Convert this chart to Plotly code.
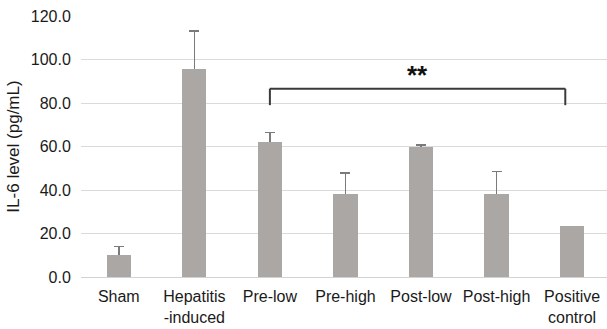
import plotly.graph_objects as go

# IL-6 levels per group (pg/mL), mean and upper error
groups = ["Sham", "Hepatitis<br>-induced", "Pre-low", "Pre-high",
          "Post-low", "Post-high", "Positive<br>control"]
il6_mean = [10.0, 95.5, 62.2, 38.3, 59.8, 38.3, 23.3]
il6_err = [4.1, 17.5, 4.2, 9.5, 0.8, 10.3, float("nan")]
y_ticks = [0, 20, 40, 60, 80, 100, 120]

# significance bracket spanning Pre-low .. Positive control
bracket_x = [2, 5.91]
bracket_top = 86.6
bracket_foot = 79.0
bracket_label = "**"

x_idx = list(range(len(groups)))
bar_width = 0.32

fig = go.Figure()
# transparent carrier for the error bars; the solid bars drawn next hide
# the lower half so only the upward whisker shows
fig.add_trace(go.Bar(
    x=x_idx,
    y=il6_mean,
    width=bar_width,
    marker=dict(color="rgba(0,0,0,0)", line=dict(width=0)),
    error_y=dict(
        type="data",
        symmetric=True,
        array=il6_err,
        color="#7a7a7a",
        thickness=1.6,
        width=5,
    ),
    hoverinfo="skip",
    showlegend=False,
))
fig.add_trace(go.Bar(
    x=x_idx,
    y=il6_mean,
    width=bar_width,
    marker=dict(color="#aba7a5", line=dict(width=0)),
    showlegend=False,
))

line_style = dict(color="#3a3a3a", width=2)
fig.add_shape(type="line", xref="x", yref="y",
              x0=bracket_x[0], x1=bracket_x[0], y0=bracket_foot, y1=bracket_top,
              line=line_style)
fig.add_shape(type="line", xref="x", yref="y",
              x0=bracket_x[0], x1=bracket_x[1], y0=bracket_top, y1=bracket_top,
              line=line_style)
fig.add_shape(type="line", xref="x", yref="y",
              x0=bracket_x[1], x1=bracket_x[1], y0=bracket_top, y1=bracket_foot,
              line=line_style)
fig.add_annotation(
    x=(bracket_x[0] + bracket_x[1]) / 2 + 0.005, y=bracket_top,
    xref="x", yref="y", text="<b>" + bracket_label + "</b>",
    showarrow=False, yanchor="bottom", yshift=-3,
    font=dict(family="Arial, Liberation Sans", size=26, color="#111111"),
)

fig.update_layout(
    width=607,
    height=329,
    margin=dict(l=81, r=0, t=16, b=52),
    paper_bgcolor="white",
    plot_bgcolor="white",
    font=dict(family="Arial, Liberation Sans", size=16, color="#1a1a1a"),
    barmode="overlay",
    bargap=0,
    xaxis=dict(
        range=[-0.5, 6.462],
        tickmode="array",
        tickvals=x_idx,
        ticktext=groups,
        showgrid=False,
        zeroline=False,
        showline=False,
        ticks="outside",
        ticklen=5,
        tickcolor="rgba(0,0,0,0)",
        tickfont=dict(size=16),
    ),
    yaxis=dict(
        range=[0, 120],
        tickmode="array",
        tickvals=y_ticks,
        ticktext=[f"{v:.1f}" for v in y_ticks],
        showgrid=True,
        gridcolor="#dadada",
        gridwidth=1.3,
        zeroline=True,
        zerolinecolor="#d2d2d2",
        zerolinewidth=1.3,
        showline=False,
        ticks="outside",
        ticklen=6,
        tickcolor="rgba(0,0,0,0)",
        tickfont=dict(size=16),
        title=dict(text="IL-6 level (pg/mL)", font=dict(size=17), standoff=6),
    ),
)

fig.write_html("out.html")
